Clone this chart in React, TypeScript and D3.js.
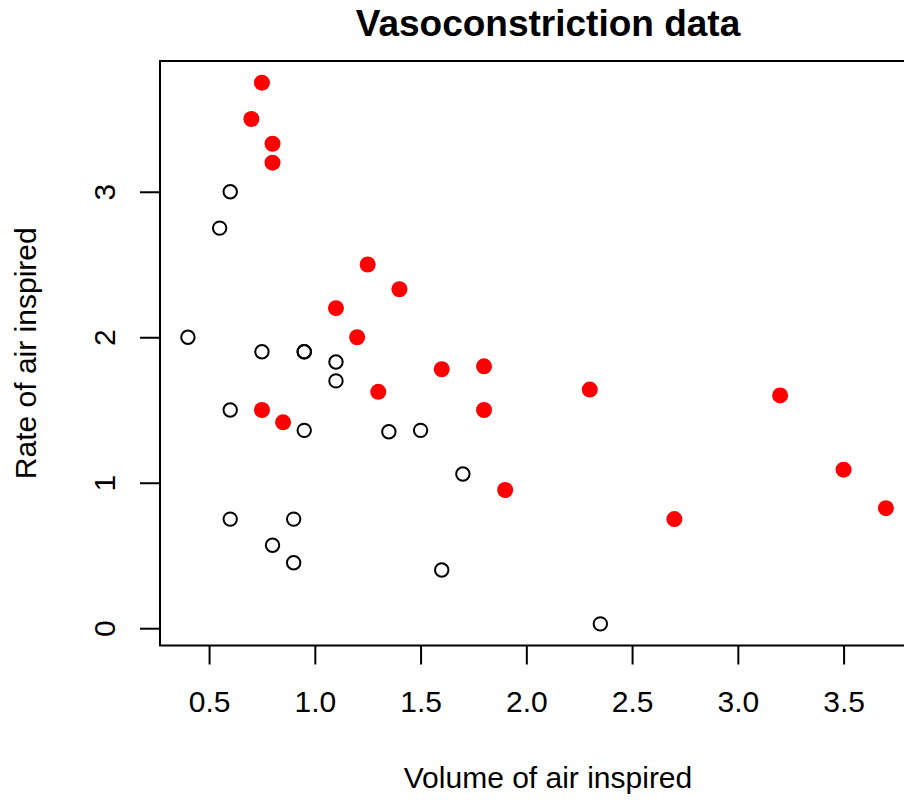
import { useEffect, useRef } from 'react'
import { axisBottom, axisLeft, scaleLinear, select } from 'd3'

// Finney (1947) vasoconstriction data
const volume = [
  3.7, 3.5, 1.25, 0.75, 0.8, 0.7, 0.6, 1.1, 0.9, 0.9, 0.8, 0.55, 0.6, 1.4, 0.75, 2.3, 3.2, 0.85, 1.7, 1.8,
  0.4, 0.95, 1.35, 1.5, 1.6, 0.6, 1.8, 0.95, 1.9, 1.6, 2.7, 2.35, 1.1, 1.1, 1.2, 0.8, 0.95, 0.75, 1.3,
]
const rate = [
  0.825, 1.09, 2.5, 1.5, 3.2, 3.5, 0.75, 1.7, 0.75, 0.45, 0.57, 2.75, 3.0, 2.33, 3.75, 1.64, 1.6, 1.415, 1.06,
  1.8, 2.0, 1.36, 1.35, 1.36, 1.78, 1.5, 1.5, 1.9, 0.95, 0.4, 0.75, 0.03, 1.83, 2.2, 2.0, 3.33, 1.9, 1.9, 1.625,
]
const response = [
  1, 1, 1, 1, 1, 1, 0, 0, 0, 0, 0, 0, 0, 1, 1, 1, 1, 1, 0, 1, 0, 0, 0, 0, 1, 0, 1, 0, 1, 0, 1, 0, 0, 1, 1, 1, 0,
  0, 1,
]
const xTicks = [0.5, 1.0, 1.5, 2.0, 2.5, 3.0, 3.5]
const yTicks = [0, 1, 2, 3]

const W = 904
const H = 800
const FONT = '"Liberation Sans", Arial, Helvetica, sans-serif'

export default function App() {
  const ref = useRef<SVGSVGElement>(null)

  useEffect(() => {
    if (!ref.current) return
    const svg = select(ref.current)
    svg.selectAll('*').remove()

    // R style: extend data range by 4% on each side
    const pad = (lo: number, hi: number): [number, number] => {
      const d = (hi - lo) * 0.04
      return [lo - d, hi + d]
    }
    const xDom = pad(Math.min(...volume), Math.max(...volume))
    const yDom = pad(Math.min(...rate), Math.max(...rate))

    const left = 160
    const top = 61
    const bottom = 645.5
    const right = left + 753.8
    const labelCx = 548
    const x = scaleLinear().domain(xDom).range([left, right])
    const y = scaleLinear().domain(yDom).range([bottom, top])

    const g = svg.append('g')

    // x axis
    const gx = g
      .append('g')
      .attr('transform', `translate(0, ${bottom})`)
      .call(
        axisBottom(x)
          .tickValues(xTicks)
          .tickFormat((d) => (+d).toFixed(1))
          .tickSize(19)
          .tickPadding(26),
      )
    gx.select('.domain').remove()
    gx.selectAll('line').attr('stroke', '#000').attr('stroke-width', 2)
    gx.selectAll('text').attr('font-size', 30).attr('font-family', FONT).attr('fill', '#000')

    // y axis
    const gy = g
      .append('g')
      .attr('transform', `translate(${left}, 0)`)
      .call(axisLeft(y).tickValues(yTicks).tickFormat((d) => String(d)).tickSize(20))
    gy.select('.domain').remove()
    gy.selectAll('line').attr('stroke', '#000').attr('stroke-width', 2)
    gy.selectAll('text')
      .attr('font-size', 30)
      .attr('font-family', FONT)
      .attr('fill', '#000')
      .attr('x', null)
      .attr('dy', null)
      .attr('text-anchor', 'middle')
      .attr('transform', 'translate(-45, 0) rotate(-90)')

    // points
    const pts = volume.map((v, i) => ({ v, r: rate[i], y: response[i] }))
    g.append('g')
      .selectAll('circle')
      .data(pts)
      .join('circle')
      .attr('cx', (d) => x(d.v))
      .attr('cy', (d) => y(d.r))
      .attr('r', (d) => (d.y === 1 ? 8 : 6.7))
      .attr('fill', (d) => (d.y === 1 ? '#ff0000' : 'none'))
      .attr('stroke', (d) => (d.y === 1 ? 'none' : '#000'))
      .attr('stroke-width', 2)

    // box
    g.append('rect')
      .attr('x', left)
      .attr('y', top)
      .attr('width', right - left)
      .attr('height', bottom - top)
      .attr('fill', 'none')
      .attr('stroke', '#000')
      .attr('stroke-width', 2)

    // title and labels
    svg
      .append('text')
      .attr('x', labelCx)
      .attr('y', 36)
      .attr('text-anchor', 'middle')
      .attr('font-family', FONT)
      .attr('font-weight', 'bold')
      .attr('font-size', 37)
      .text('Vasoconstriction data')

    svg
      .append('text')
      .attr('x', labelCx)
      .attr('y', 788)
      .attr('text-anchor', 'middle')
      .attr('font-family', FONT)
      .attr('font-size', 30)
      .text('Volume of air inspired')

    svg
      .append('text')
      .attr('transform', `translate(36, ${(top + bottom) / 2}) rotate(-90)`)
      .attr('text-anchor', 'middle')
      .attr('font-family', FONT)
      .attr('font-size', 30)
      .text('Rate of air inspired')
  }, [])

  return (
    <svg
      ref={ref}
      width={W}
      height={H}
      style={{ position: 'absolute', left: 0, top: 0, background: '#fff' }}
    />
  )
}
